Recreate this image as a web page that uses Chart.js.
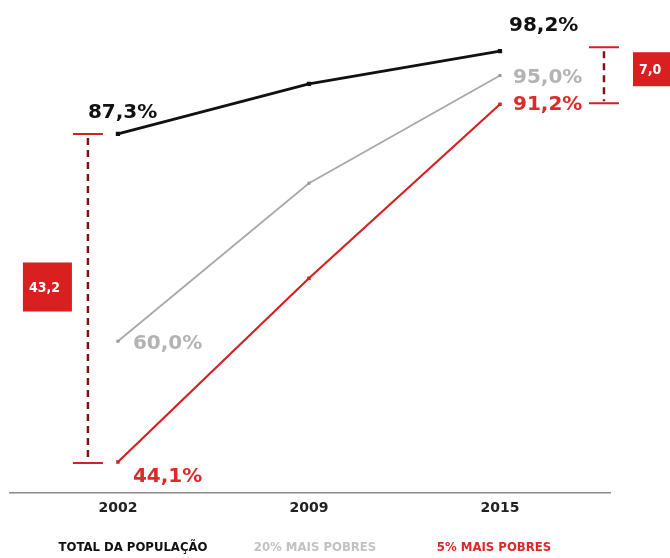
<!DOCTYPE html>
<html>
<head>
<meta charset="utf-8">
<script src="https://cdn.jsdelivr.net/npm/chart.js@4.4.1/dist/chart.umd.min.js"></script>
<style>
  html, body { margin: 0; padding: 0; background: #fff; }
  #wrap { width: 670px; height: 558px; }
</style>
</head>
<body>
<div id="wrap"><canvas id="chart" width="670" height="558"></canvas></div>
<script>
// Acesso por ano: total da população, 20% e 5% mais pobres
const years = ['2002', '2009', '2015'];
const totalPop = [87.3, 93.9, 98.2];
const pobres20 = [60.0, 80.8, 95.0];
const pobres5 = [44.1, 68.3, 91.2];
const seriesNames = ['TOTAL DA POPULAÇÃO', '20% MAIS POBRES', '5% MAIS POBRES'];

const BLACK = '#111111';
const GRAY = '#a9a9a9';
const RED = '#d42222';

const fmt = v => v.toFixed(1).replace('.', ',');
const toPoints = arr => arr.map((v, i) => ({ x: i, y: v }));

// where each value label sits relative to its point
const valueLabels = [
    { ds: 0, i: 0, dx: -30, dy: -21 },
    { ds: 0, i: 2, dx: 9, dy: -25 },
    { ds: 1, i: 0, dx: 15, dy: 3 },
    { ds: 1, i: 2, dx: 13, dy: 2 },
    { ds: 2, i: 0, dx: 15, dy: 15 },
    { ds: 2, i: 2, dx: 13, dy: 0 }
];
const labelColors = [BLACK, '#b3b3b3', '#dc2a2a'];
const legendColors = [BLACK, '#c2c2c2', '#e02626'];

function drawBracket(ctx, x, yTop, yBottom) {
    ctx.save();
    ctx.strokeStyle = '#7d1414';
    ctx.lineWidth = 2.5;
    ctx.setLineDash([7, 5]);
    ctx.beginPath();
    ctx.moveTo(x, yTop + 4);
    ctx.lineTo(x, yBottom - 2);
    ctx.stroke();
    ctx.setLineDash([]);
    ctx.strokeStyle = RED;
    ctx.lineWidth = 2;
    ctx.beginPath();
    ctx.moveTo(x - 15, yTop); ctx.lineTo(x + 15, yTop);
    ctx.moveTo(x - 15, yBottom); ctx.lineTo(x + 15, yBottom);
    ctx.stroke();
    ctx.restore();
}

function drawBox(ctx, x, y, w, h, text) {
    ctx.save();
    ctx.fillStyle = '#d91f1f';
    ctx.fillRect(x, y, w, h);
    ctx.fillStyle = '#ffffff';
    ctx.font = 'bold 14px "DejaVu Sans Condensed", "DejaVu Sans", sans-serif';
    ctx.textBaseline = 'middle';
    ctx.textAlign = 'left';
    ctx.fillText(text, x + 6, y + h / 2 + 1);
    ctx.restore();
}

const annotations = {
    id: 'annotations',
    afterDatasetsDraw(chart) {
        const { ctx, scales: { x, y } } = chart;

        // value labels
        ctx.save();
        ctx.font = 'bold 20px "DejaVu Sans", sans-serif';
        ctx.textBaseline = 'middle';
        ctx.textAlign = 'left';
        valueLabels.forEach(l => {
            const v = chart.data.datasets[l.ds].data[l.i];
            ctx.fillStyle = labelColors[l.ds];
            ctx.fillText(fmt(v.y) + '%', x.getPixelForValue(v.x) + l.dx, y.getPixelForValue(v.y) + l.dy);
        });
        ctx.restore();

        // gap brackets between total and 5% mais pobres
        const leftX = x.getPixelForValue(0) - 30;
        const lTop = y.getPixelForValue(totalPop[0]);
        const lBot = y.getPixelForValue(pobres5[0]) + 1;
        drawBracket(ctx, leftX, lTop, lBot);
        drawBox(ctx, leftX - 65, (lTop + lBot) / 2 - 36, 49, 49, fmt(totalPop[0] - pobres5[0]));

        const rightX = x.getPixelForValue(2) + 104;
        const rTop = y.getPixelForValue(totalPop[2]) - 4;
        const rBot = y.getPixelForValue(pobres5[2]) - 1;
        drawBracket(ctx, rightX, rTop, rBot);
        drawBox(ctx, rightX + 29, (rTop + rBot) / 2 - 23, 49, 34, fmt(totalPop[2] - pobres5[2]));

        // legend row under the axis
        ctx.save();
        ctx.font = 'bold 13px "Liberation Sans Narrow", "DejaVu Sans Condensed", sans-serif';
        ctx.textBaseline = 'middle';
        ctx.textAlign = 'center';
        const legendX = [133, 315, 494];
        seriesNames.forEach((name, i) => {
            ctx.fillStyle = legendColors[i];
            ctx.fillText(name, legendX[i], 548);
        });
        ctx.restore();
    }
};

new Chart(document.getElementById('chart'), {
    type: 'line',
    data: {
        datasets: [
            {
                label: seriesNames[0],
                data: toPoints(totalPop),
                borderColor: BLACK,
                backgroundColor: BLACK,
                borderWidth: 2.8,
                pointStyle: 'rect',
                pointRadius: 3,
                pointBorderWidth: 0
            },
            {
                label: seriesNames[1],
                data: toPoints(pobres20),
                borderColor: GRAY,
                backgroundColor: '#9a9a9a',
                borderWidth: 1.8,
                pointStyle: 'rect',
                pointRadius: 2.2,
                pointBorderWidth: 0
            },
            {
                label: seriesNames[2],
                data: toPoints(pobres5),
                borderColor: RED,
                backgroundColor: RED,
                borderWidth: 2.2,
                pointStyle: 'rect',
                pointRadius: 2.5,
                pointBorderWidth: 0
            }
        ]
    },
    options: {
        responsive: false,
        devicePixelRatio: 1,
        animation: false,
        layout: { padding: { left: 10, right: 60, top: 20, bottom: 34 } },
        plugins: {
            legend: { display: false },
            tooltip: { enabled: false }
        },
        scales: {
            x: {
                type: 'linear',
                min: -0.565,
                max: 2.576,
                grid: { display: false, drawTicks: false },
                border: { color: '#8a8a8a', width: 1.5 },
                afterBuildTicks: axis => {
                    axis.ticks = years.map((_, i) => ({ value: i }));
                },
                ticks: {
                    padding: 7,
                    color: '#222',
                    font: { family: '"DejaVu Sans", sans-serif', size: 14, weight: 'bold' },
                    callback: v => years[v]
                }
            },
            y: {
                display: false,
                min: 40.0,
                max: 102.3
            }
        }
    },
    plugins: [annotations]
});
</script>
</body>
</html>
